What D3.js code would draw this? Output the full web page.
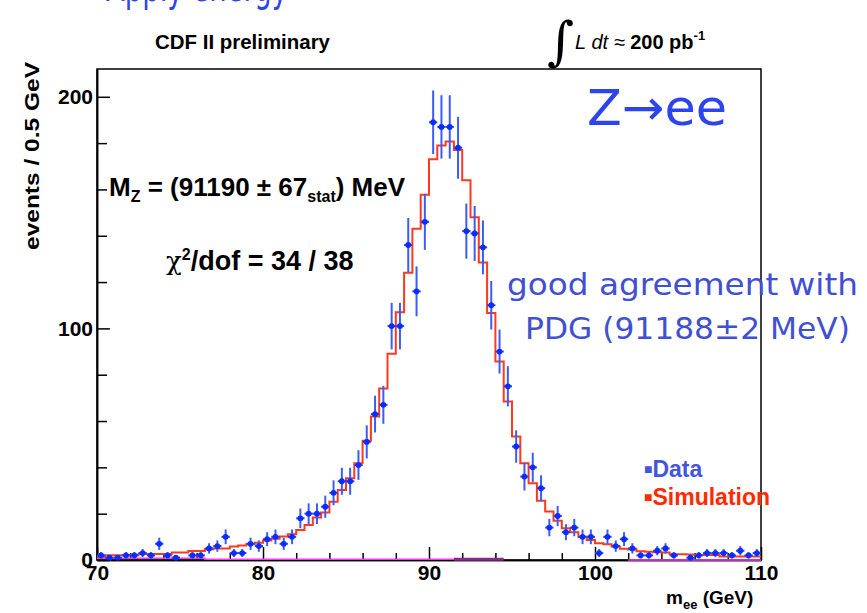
<!DOCTYPE html>
<html>
<head>
<meta charset="utf-8">
<script src="https://cdn.jsdelivr.net/npm/d3@7"></script>
<style>
body { margin: 0; background: #fff; }
.root { font-family: "Liberation Sans", Arial, sans-serif; font-weight: bold; fill: #000; }
.slide { font-family: "DejaVu Sans", Verdana, sans-serif; }
</style>
</head>
<body>
<script>
// Z -> ee invariant mass, CDF II preliminary, data vs simulation
// bins of 0.5 GeV from 70 to 110

var massBins = [70.25, 70.75, 71.25, 71.75, 72.25, 72.75, 73.25, 73.75, 74.25, 74.75,
                75.25, 75.75, 76.25, 76.75, 77.25, 77.75, 78.25, 78.75, 79.25, 79.75,
                80.25, 80.75, 81.25, 81.75, 82.25, 82.75, 83.25, 83.75, 84.25, 84.75,
                85.25, 85.75, 86.25, 86.75, 87.25, 87.75, 88.25, 88.75, 89.25, 89.75,
                90.25, 90.75, 91.25, 91.75, 92.25, 92.75, 93.25, 93.75, 94.25, 94.75,
                95.25, 95.75, 96.25, 96.75, 97.25, 97.75, 98.25, 98.75, 99.25, 99.75,
                100.25, 100.75, 101.25, 101.75, 102.25, 102.75, 103.25, 103.75, 104.25, 104.75,
                105.25, 105.75, 106.25, 106.75, 107.25, 107.75, 108.25, 108.75, 109.25, 109.75];

var dataCounts = [2, 1, 1, 2, 2, 3, 2, 7, 2, 1,
                  0, 2, 2, 5, 6, 10, 3, 3, 7, 6,
                  9, 10, 7, 10, 18, 20, 20, 23, 29, 34,
                  34, 41, 51, 63, 67, 101, 101, 136, 116, 146,
                  189, 187, 187, 178, 142, 141, 135, 110, 90, 75,
                  49, 36, 40, 31, 14, 19, 12, 14, 10, 10,
                  3, 10, 6, 9, 5, 2, 2, 4, 5, 2,
                  0, 1, 2, 3, 3, 3, 2, 4, 2, 3];

var simCounts = [1.4, 2.0, 2.0, 2.0, 2.0, 2.6, 2.6, 2.6, 2.6, 3.2,
                 3.2, 3.9, 3.9, 4.6, 5.0, 5.0, 5.8, 6.3, 6.9, 7.5,
                 8.4, 9.2, 10.1, 11.1, 13.0, 15.1, 18.4, 20.5, 25.2, 30.2,
                 35.3, 41.8, 51.5, 62.0, 74.0, 89.0, 107.0, 124.0, 143.0, 157.7,
                 173.0, 179.0, 180.7, 177.0, 164.0, 148.0, 128.4, 106.6, 85.7, 68.4,
                 53.3, 41.8, 33.1, 25.6, 20.9, 17.0, 13.7, 12.0, 10.0, 8.6,
                 7.2, 6.8, 5.8, 4.9, 4.5, 3.8, 3.6, 3.4, 3.2, 2.5,
                 2.5, 2.4, 2.2, 2.2, 2.2, 1.5, 1.5, 1.5, 1.5, 1.5];

// background histogram (magenta), null = not drawn
var bkgCounts = [0.8, 0.8, 0.8, 0.8, 0.8, 0.8, 0.8, 0.8, 0.8, 0.8,
                 0.8, 0.8, 0.8, 0.3, 0.3, 0.3, 0.3, 0.3, 0.3, 0.3,
                 0.3, 0.3, 0.3, 0.3, 0.3, 0.3, 0.3, 0.3, 0.3, 0.3,
                 0.3, 0.3, 0.3, 0.3, 0.3, 0.3, 0.3, 0.3, 0.3, 0.3,
                 0.3, 0.3, 0.3, null, null, null, null, null, null, null,
                 null, null, null, null, null, null, null, null, null, null,
                 null, null, null, null, 0.05, 0.05, 0.05, 0.05, 0.05, 0.05,
                 0.05, 0.05, 0.05, 0.05, 0.05, 0.05, 0.05, 0.05, 0.05, 0.05];

var peakBkgBins = [91.75, 92.25, 92.75, 93.25, 93.75, 94.25];
var peakBkgCounts = [0.3, 0.3, 0.3, 0.3, 0.3, 0.3];

var xMajor = [70, 80, 90, 100, 110];
var xMinor = [72, 74, 76, 78, 82, 84, 86, 88, 92, 94, 96, 98, 102, 104, 106, 108];
var yMajor = [0, 100, 200];
var yMinor = [20, 40, 60, 80, 120, 140, 160, 180];

var binHalf = 0.25;

var width = 867, height = 613;
var frame = {left: 97, right: 761, top: 69, bottom: 560};

var x = d3.scaleLinear().domain([70, 110]).range([frame.left, frame.right]);
var y = d3.scaleLinear().domain([0, 212]).range([frame.bottom, frame.top]);

var svg = d3.select("body").append("svg")
    .attr("width", width)
    .attr("height", height);

// slide title, mostly cut off by the top edge
svg.append("text")
    .attr("class", "slide")
    .attr("x", 106)
    .attr("y", 1)
    .attr("textLength", 182)
    .attr("lengthAdjust", "spacingAndGlyphs")
    .style("font-size", "40px")
    .style("fill", "#2f45e6")
    .text("Apply energy");

// frame
svg.append("rect")
    .attr("x", frame.left)
    .attr("y", frame.top)
    .attr("width", frame.right - frame.left)
    .attr("height", frame.bottom - frame.top)
    .attr("fill", "none")
    .attr("stroke", "#000")
    .attr("stroke-width", 1.5);

// axes
function styleAxis(g) {
    g.select(".domain").attr("stroke", "#000").attr("stroke-width", 1.5);
    g.selectAll(".tick line").attr("stroke", "#000").attr("stroke-width", 1.5);
    g.selectAll("text").attr("class", "root").style("font-size", "21px").attr("fill", "#000");
}

svg.append("g")
    .attr("transform", "translate(0," + frame.bottom + ")")
    .call(d3.axisBottom(x).tickValues(xMinor).tickSize(-7).tickSizeOuter(0).tickFormat(""))
    .call(styleAxis);

svg.append("g")
    .attr("transform", "translate(0," + frame.bottom + ")")
    .call(d3.axisBottom(x).tickValues(xMajor).tickSize(-13).tickSizeOuter(0).tickPadding(5).tickFormat(d3.format("d")))
    .call(styleAxis);

svg.append("g")
    .attr("transform", "translate(" + frame.left + ",0)")
    .call(d3.axisLeft(y).tickValues(yMinor).tickSize(-10).tickSizeOuter(0).tickFormat(""))
    .call(styleAxis);

svg.append("g")
    .attr("transform", "translate(" + frame.left + ",0)")
    .call(d3.axisLeft(y).tickValues(yMajor).tickSize(-13).tickSizeOuter(0).tickPadding(4).tickFormat(d3.format("d")))
    .call(styleAxis);

// step histogram helper: two points per bin
function stepPoints(bins, counts) {
    var pts = [];
    bins.forEach(function(m, i) {
        pts.push({m: m - binHalf, v: counts[i]});
        pts.push({m: m + binHalf, v: counts[i]});
    });
    return pts;
}

var stepLine = d3.line()
    .defined(function(d) { return d.v !== null; })
    .x(function(d) { return x(d.m); })
    .y(function(d) { return y(d.v); });

svg.append("path")
    .datum(stepPoints(massBins, bkgCounts))
    .attr("d", stepLine)
    .attr("fill", "none")
    .attr("stroke", "#ff33ff")
    .attr("stroke-width", 1.5);

svg.append("path")
    .datum(stepPoints(peakBkgBins, peakBkgCounts))
    .attr("d", stepLine)
    .attr("fill", "none")
    .attr("stroke", "#8a2a8a")
    .attr("stroke-width", 3);

svg.append("path")
    .datum(stepPoints(massBins, simCounts))
    .attr("d", stepLine)
    .attr("fill", "none")
    .attr("stroke", "#ff3a1c")
    .attr("stroke-width", 2);

// data points with sqrt(N) errors
var pts = massBins.map(function(m, i) { return {m: m, n: dataCounts[i]}; })
    .filter(function(d) { return d.n > 0; });

var marks = svg.append("g");

marks.selectAll(".ey")
    .data(pts)
    .enter().append("line")
    .attr("x1", function(d) { return x(d.m); })
    .attr("x2", function(d) { return x(d.m); })
    .attr("y1", function(d) { return y(d.n - Math.sqrt(d.n)); })
    .attr("y2", function(d) { return y(d.n + Math.sqrt(d.n)); })
    .attr("stroke", "#3b5cf8")
    .attr("stroke-width", 2);

marks.selectAll(".ex")
    .data(pts)
    .enter().append("line")
    .attr("x1", function(d) { return x(d.m - binHalf); })
    .attr("x2", function(d) { return x(d.m + binHalf); })
    .attr("y1", function(d) { return y(d.n); })
    .attr("y2", function(d) { return y(d.n); })
    .attr("stroke", "#1f44ff")
    .attr("stroke-width", 2);

marks.selectAll(".pt")
    .data(pts)
    .enter().append("circle")
    .attr("cx", function(d) { return x(d.m); })
    .attr("cy", function(d) { return y(d.n); })
    .attr("r", 2.9)
    .attr("fill", "#0a2cff");

// header texts
svg.append("text")
    .attr("class", "root")
    .attr("x", 155)
    .attr("y", 49)
    .attr("textLength", 175)
    .attr("lengthAdjust", "spacingAndGlyphs")
    .style("font-size", "21px")
    .text("CDF II preliminary");

var lumi = svg.append("text")
    .attr("class", "root")
    .attr("x", 547)
    .attr("y", 49)
    .style("font-size", "20px");
lumi.append("tspan")
    .style("font-family", "DejaVu Serif, serif")
    .style("font-weight", "normal")
    .style("font-size", "52px")
    .attr("dy", 10)
    .text("\u222B");
lumi.append("tspan")
    .attr("dy", -10)
    .attr("dx", 1)
    .style("font-weight", "normal")
    .style("font-style", "italic")
    .text("L dt \u2248 ");
lumi.append("tspan").text("200 pb");
lumi.append("tspan").attr("dy", -9).style("font-size", "13px").text("-1");

// axis titles
svg.append("text")
    .attr("class", "root")
    .attr("transform", "translate(39,62) rotate(-90)")
    .attr("text-anchor", "end")
    .attr("textLength", 188)
    .attr("lengthAdjust", "spacingAndGlyphs")
    .style("font-size", "21px")
    .text("events / 0.5 GeV");

var xt = svg.append("text")
    .attr("class", "root")
    .attr("x", 666)
    .attr("y", 604)
    .style("font-size", "19px");
xt.append("tspan").text("m");
xt.append("tspan").attr("dy", 5).style("font-size", "13px").text("ee");
xt.append("tspan").attr("dy", -5).text(" (GeV)");

// fit results
var mz = svg.append("text")
    .attr("class", "root")
    .attr("x", 109)
    .attr("y", 196)
    .style("font-size", "26px");
mz.append("tspan").text("M");
mz.append("tspan").attr("dy", 6).style("font-size", "16px").text("Z");
mz.append("tspan").attr("dy", -6).text(" = (91190 \u00B1 67");
mz.append("tspan").attr("dy", 6).style("font-size", "16px").text("stat");
mz.append("tspan").attr("dy", -6).text(") MeV");

var chi = svg.append("text")
    .attr("class", "root")
    .attr("x", 166)
    .attr("y", 270)
    .style("font-size", "26px");
chi.append("tspan").style("font-family", "DejaVu Serif, serif").style("font-weight", "normal").text("\u03C7");
chi.append("tspan").attr("dy", -10).style("font-size", "16px").text("2");
chi.append("tspan").attr("dy", 10).style("font-size", "27px").text("/dof = 34 / 38");

// slide annotations
svg.append("text")
    .attr("class", "slide")
    .attr("x", 587)
    .attr("y", 125)
    .attr("textLength", 140)
    .attr("lengthAdjust", "spacingAndGlyphs")
    .style("font-size", "50px")
    .style("fill", "#2b44ee")
    .text("Z\u2192ee");

svg.append("text")
    .attr("class", "slide")
    .attr("x", 507)
    .attr("y", 295)
    .attr("textLength", 351)
    .attr("lengthAdjust", "spacingAndGlyphs")
    .style("font-size", "31px")
    .style("fill", "#3f50d2")
    .text("good agreement with");

svg.append("text")
    .attr("class", "slide")
    .attr("x", 525)
    .attr("y", 339)
    .attr("textLength", 325)
    .attr("lengthAdjust", "spacingAndGlyphs")
    .style("font-size", "31px")
    .style("fill", "#3f50d2")
    .text("PDG (91188\u00B12 MeV)");

// legend
var legend = [{label: "Data", colour: "#4455dd", y: 477}, {label: "Simulation", colour: "#ff2a00", y: 505}];
legend.forEach(function(l) {
    var t = svg.append("text")
        .attr("class", "root")
        .attr("x", 644)
        .attr("y", l.y)
        .style("font-size", "23px")
        .style("fill", l.colour);
    t.append("tspan").style("font-size", "14px").attr("dy", -3).text("\u25A0");
    t.append("tspan").attr("dy", 3).text(l.label);
});
</script>
</body>
</html>
